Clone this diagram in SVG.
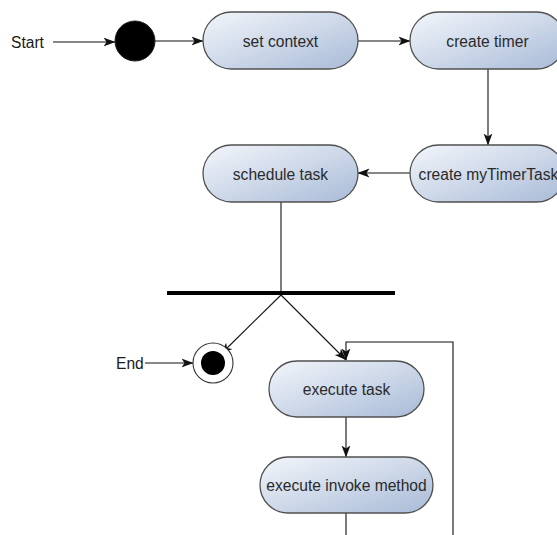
<svg xmlns="http://www.w3.org/2000/svg" width="557" height="535" viewBox="0 0 557 535">
  <style>
    .act { stroke: #505050; stroke-width: 1.3; fill: url(#actFill); }
    .lbl { font-family: "Liberation Sans", Arial, sans-serif; font-size: 15.6px; fill: #2a2a2a; text-anchor: middle; }
    .side { font-family: "Liberation Sans", Arial, sans-serif; font-size: 15.6px; fill: #1a1a1a; }
    .edge { stroke: #111; stroke-width: 1.1; fill: none; }
    .arrow { marker-end: url(#head); }
  </style>
  <defs>
    <linearGradient id="actFill" x1="0" y1="0" x2="1" y2="1">
      <stop offset="0" stop-color="#f3f6fb"/>
      <stop offset="1" stop-color="#a9bbd7"/>
    </linearGradient>
    <marker id="head" viewBox="0 0 12 10" refX="11.5" refY="5" markerWidth="12" markerHeight="10" markerUnits="userSpaceOnUse" orient="auto">
      <path d="M0,0.6 L12,5 L0,9.4 L3,5 Z" fill="#111"/>
    </marker>
  </defs>

  <rect width="557" height="535" fill="#ffffff"/>

  <!-- connectors -->
  <g id="connectors">
    <line class="edge arrow" x1="53" y1="42" x2="115" y2="42"/>
    <line class="edge arrow" x1="155" y1="41" x2="203" y2="41"/>
    <line class="edge arrow" x1="358" y1="41" x2="410" y2="41"/>
    <line class="edge arrow" x1="488" y1="69" x2="488" y2="145"/>
    <line class="edge arrow" x1="410" y1="173" x2="358" y2="173"/>
    <line class="edge" x1="281" y1="202" x2="281" y2="294"/>
    <line class="edge arrow" x1="281" y1="295" x2="221" y2="354"/>
    <line class="edge arrow" x1="281" y1="295" x2="346" y2="360"/>
    <line class="edge arrow" x1="145" y1="363" x2="193" y2="363"/>
    <polyline class="edge arrow" points="453,535 453,342 346,342 346,360"/>
    <line class="edge arrow" x1="346" y1="417" x2="346" y2="457"/>
    <line class="edge" x1="346" y1="513" x2="346" y2="535"/>
  </g>

  <!-- labels beside the start and end nodes -->
  <text class="side" x="11" y="47.5">Start</text>
  <text class="side" x="116" y="368.5">End</text>

  <g id="start">
    <circle cx="135" cy="41" r="20" fill="#000" stroke="#222" stroke-width="1"/>
  </g>

  <g id="set-context">
    <rect class="act" x="203" y="12" width="155" height="57" rx="28.5"/>
    <text class="lbl" x="280.5" y="46.5">set context</text>
  </g>

  <g id="create-timer">
    <rect class="act" x="410" y="12" width="155" height="57" rx="28.5"/>
    <text class="lbl" x="487.5" y="46.5">create timer</text>
  </g>

  <g id="create-mytimertask">
    <rect class="act" x="410" y="145" width="155" height="57" rx="28.5"/>
    <text class="lbl" x="488.5" y="179.5">create myTimerTask</text>
  </g>

  <g id="schedule-task">
    <rect class="act" x="203" y="145" width="155" height="57" rx="28.5"/>
    <text class="lbl" x="280.5" y="179.5">schedule task</text>
  </g>

  <g id="fork">
    <rect x="167" y="291" width="228" height="4" fill="#000"/>
  </g>

  <g id="end">
    <circle cx="213" cy="363" r="20" fill="#fff" stroke="#333" stroke-width="1.1"/>
    <circle cx="213" cy="363" r="12" fill="#000"/>
  </g>

  <g id="execute-task">
    <rect class="act" x="269" y="361" width="155" height="56" rx="28"/>
    <text class="lbl" x="346.5" y="394.5">execute task</text>
  </g>

  <g id="execute-invoke-method">
    <rect class="act" x="260" y="457" width="173" height="56" rx="28"/>
    <text class="lbl" x="346.5" y="490.5">execute invoke method</text>
  </g>
</svg>
